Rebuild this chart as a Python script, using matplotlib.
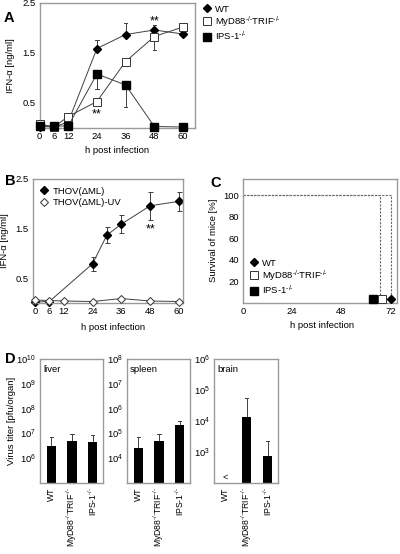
import numpy as np
import matplotlib
matplotlib.use('Agg')
import matplotlib.pyplot as plt
from matplotlib.lines import Line2D

plt.rcParams['font.family'] = ['Liberation Sans', 'DejaVu Sans']
plt.rcParams['mathtext.fontset'] = 'custom'
plt.rcParams['mathtext.rm'] = 'Liberation Sans'
plt.rcParams['mathtext.it'] = 'Liberation Sans:italic'
plt.rcParams['mathtext.bf'] = 'Liberation Sans:bold'
plt.rcParams['font.size'] = 6.8

# ---- data ----
# A: IFN-alpha kinetics, three genotypes
hours_a = [0, 6, 12, 24, 36, 48, 60]
wt_a = [0.03, 0.02, 0.12, 1.59, 1.87, 1.96, 1.88]
wt_a_err = [0, 0, 0, 0.17, 0.22, 0.10, 0]
myd_a = [0.08, 0.02, 0.23, 0.53, 1.33, 1.83, 2.02]
myd_a_err = [0, 0, 0, 0.07, 0, 0.27, 0]
ips_a = [0.04, 0.04, 0.04, 1.08, 0.86, 0.03, 0.02]
ips_a_err = [0, 0, 0, 0.30, 0.44, 0, 0]

# B: THOV(dML) vs UV inactivated
hours_b = [0, 6, 24, 30, 36, 48, 60]
thov_b = [0.02, 0.03, 0.79, 1.37, 1.59, 1.96, 2.05]
thov_b_err = [0, 0, 0.14, 0.16, 0.18, 0.28, 0.19]
hours_uv = [0, 6, 12, 24, 36, 48, 60]
uv_b = [0.06, 0.05, 0.04, 0.03, 0.09, 0.04, 0.03]

# C: survival
surv_wt_t = [0, 72, 72]
surv_wt = [100, 100, 0]
surv_ko_t = [0, 66.5, 66.5]
surv_ko = [100, 100, 0]
death_t = {'WT': 72, 'MyD88': 67.6, 'IPS': 63.4}

# D: virus titers (log10 pfu/organ)
KO = '$^{\u2010/\u2010}$'
genotypes = ['WT', 'MyD88' + KO + 'TRIF' + KO, 'IPS-1' + KO]
liver_log = [6.48, 6.68, 6.65]
liver_log_err = [0.37, 0.31, 0.30]
spleen_log = [4.43, 4.69, 5.32]
spleen_log_err = [0.42, 0.30, 0.17]
brain_log = [np.nan, 4.14, 2.88]
brain_log_err = [0, 0.59, 0.48]

W, H = 400, 554
fig = plt.figure(figsize=(W / 100, H / 100), dpi=100)

SPINE = '#9a9a9a'
LINE = '#404040'


def add_ax(x0, y0, x1, y1):
    ax = fig.add_axes([x0 / W, 1 - y1 / H, (x1 - x0) / W, (y1 - y0) / H])
    for s in ax.spines.values():
        s.set_color(SPINE)
        s.set_linewidth(1.0)
    ax.tick_params(length=0, pad=3, labelsize=6.8)
    return ax


def ftext(x, y, s, **kw):
    fig.text(x / W, 1 - y / H, s, **kw)


def up_err(ax, x, y, e, down=False):
    for xi, yi, ei in zip(x, y, e):
        if ei <= 0:
            continue
        y2 = yi - ei if down else yi + ei
        ax.plot([xi, xi], [yi, y2], color=LINE, lw=0.7, zorder=1)
        ax.plot([xi - 0.7, xi + 0.7], [y2, y2], color=LINE, lw=0.7, zorder=1)


leg_kw = dict(frameon=False, handlelength=0.8, handletextpad=0.5, labelspacing=0.05,
              fontsize=6.8)

# ---- A ----
axA = add_ax(39.5, 3, 195, 128)
axA.set_xlim(0, 65)
axA.set_ylim(0, 2.5)
axA.set_xticks(hours_a)
axA.set_yticks([0.5, 1.5, 2.5])
axA.set_yticklabels(['0.5', '1.5', '2.5'])
up_err(axA, hours_a, wt_a, wt_a_err)
up_err(axA, hours_a, myd_a, myd_a_err, down=True)
up_err(axA, hours_a, ips_a, ips_a_err, down=True)
axA.plot(hours_a, wt_a, color=LINE, lw=0.7, marker='D', ms=4.2, mfc='k', mec='k', clip_on=False, zorder=3)
axA.plot(hours_a, myd_a, color=LINE, lw=0.7, marker='s', ms=5.2, mfc='white', mec='#333333', mew=0.7, clip_on=False, zorder=3)
axA.plot(hours_a, ips_a, color=LINE, lw=0.7, marker='s', ms=5.2, mfc='k', mec='k', clip_on=False, zorder=4)
axA.text(48, 2.14, '**', ha='center', va='center', fontsize=9)
axA.text(24, 0.27, '**', ha='center', va='center', fontsize=9)
ftext(117, 150, 'h post infection', ha='center', va='center')
ftext(11, 66, 'IFN-α [ng/ml]', rotation=90, ha='center', va='center')
ftext(9, 18, 'A', fontsize=10.5, fontweight='bold', ha='center', va='center')

handles_a = [
    Line2D([], [], ls='none', marker='D', ms=4.2, mfc='k', mec='k'),
    Line2D([], [], ls='none', marker='s', ms=5.2, mfc='white', mec='#333333', mew=0.7),
    Line2D([], [], ls='none', marker='s', ms=5.2, mfc='k', mec='k'),
]
fig.legend(handles_a, genotypes, loc='upper left', bbox_to_anchor=(199 / W, 1 - 1 / H),
           borderaxespad=0, **leg_kw)

# ---- B ----
axB = add_ax(33, 179, 183, 303)
axB.set_xlim(-0.8, 61.7)
axB.set_ylim(0, 2.5)
axB.set_xticks([0, 6, 12, 24, 36, 48, 60])
axB.set_yticks([0.5, 1.5, 2.5])
axB.set_yticklabels(['0.5', '1.5', '2.5'])
axB.errorbar(hours_b, thov_b, yerr=thov_b_err, fmt='none', ecolor=LINE, elinewidth=0.7, capsize=1.8, capthick=0.7, zorder=1)
axB.plot(hours_uv, uv_b, color=LINE, lw=0.7, marker='D', ms=4.2, mfc='white', mec='#333333', mew=0.7, clip_on=False, zorder=3)
axB.plot(hours_b, thov_b, color=LINE, lw=0.7, marker='D', ms=4.2, mfc='k', mec='k', clip_on=False, zorder=2)
axB.text(48, 1.48, '**', ha='center', va='center', fontsize=9)
handles_b = [
    Line2D([], [], ls='none', marker='D', ms=4.2, mfc='k', mec='k'),
    Line2D([], [], ls='none', marker='D', ms=4.2, mfc='white', mec='#333333', mew=0.7),
]
axB.legend(handles_b, ['THOV(ΔML)', 'THOV(ΔML)-UV'], loc='upper left', borderaxespad=0.4,
           **dict(leg_kw, labelspacing=0.3))
ftext(113, 327, 'h post infection', ha='center', va='center')
ftext(5, 241, 'IFN-α [ng/ml]', rotation=90, ha='center', va='center')
ftext(10, 181, 'B', fontsize=10.5, fontweight='bold', ha='center', va='center')

# ---- C ----
axC = add_ax(243, 179, 397, 303)
axC.set_xlim(0, 75)
axC.set_ylim(0, 115)
axC.set_xticks([0, 24, 48, 72])
axC.set_yticks([20, 40, 60, 80, 100])
axC.plot(surv_ko_t, surv_ko, color='#666666', lw=0.8, ls=(0, (2, 1.2)), zorder=1)
axC.plot(surv_wt_t, surv_wt, color='#666666', lw=0.8, ls=(0, (2, 1.2)), zorder=1)
axC.plot([death_t['IPS']], [3.5], ls='none', marker='s', ms=5.2, mfc='k', mec='k', clip_on=False, zorder=3)
axC.plot([death_t['MyD88']], [3.5], ls='none', marker='s', ms=5.2, mfc='white', mec='#333333', mew=0.7, clip_on=False, zorder=3)
axC.plot([death_t['WT']], [3.5], ls='none', marker='D', ms=4.2, mfc='k', mec='k', clip_on=False, zorder=3)
axC.legend(handles_a, genotypes, loc='lower left', borderaxespad=0.35, **leg_kw)
ftext(322, 326, 'h post infection', ha='center', va='center')
ftext(214, 240, 'Survival of mice [%]', rotation=90, ha='center', va='center')
ftext(216, 183, 'C', fontsize=10.5, fontweight='bold', ha='center', va='center')

# ---- D ----
organs = [
    ('liver', 40, 103, liver_log, liver_log_err, 5, 10),
    ('spleen', 127, 190, spleen_log, spleen_log_err, 3, 8),
    ('brain', 214, 278, brain_log, brain_log_err, 2, 6),
]
x = np.arange(len(genotypes))
for name, x0, x1, vals, errs, lo, hi in organs:
    ax = add_ax(x0, 359, x1, 483)
    ax.set_yscale('log')
    ax.set_ylim(10.0 ** lo, 10.0 ** hi)
    ax.set_xlim(-0.55, 2.5)
    ticks = list(range(lo + 1, hi + 1))
    ax.set_yticks([10.0 ** t for t in ticks])
    ax.set_yticklabels(['$10^{%d}$' % t for t in ticks])
    ax.minorticks_off()
    v = np.array(vals, dtype=float)
    e = np.array(errs, dtype=float)
    ok = ~np.isnan(v)
    ax.bar(x[ok], 10.0 ** v[ok], width=0.45, color='k', bottom=0, zorder=2)
    for xi, vi, ei in zip(x[ok], v[ok], e[ok]):
        ax.plot([xi, xi], [10.0 ** vi, 10.0 ** (vi + ei)], color=LINE, lw=0.7, zorder=1)
        ax.plot([xi - 0.08, xi + 0.08], [10.0 ** (vi + ei)] * 2, color=LINE, lw=0.7, zorder=1)
    for xi in x[~ok]:
        ax.text(xi, 10.0 ** (lo + 0.2), '<', ha='center', va='center', fontsize=6.5)
    ax.set_xticks(x)
    ax.set_xticklabels(genotypes, rotation=90, va='top', ha='center', fontsize=6.2)
    ax.text(0.05, 0.95, name, transform=ax.transAxes, ha='left', va='top', fontsize=6.8)

ftext(12, 421, 'Virus titer [pfu/organ]', rotation=90, ha='center', va='center')
ftext(10, 359, 'D', fontsize=10.5, fontweight='bold', ha='center', va='center')

fig.savefig('out.png', dpi=100)
